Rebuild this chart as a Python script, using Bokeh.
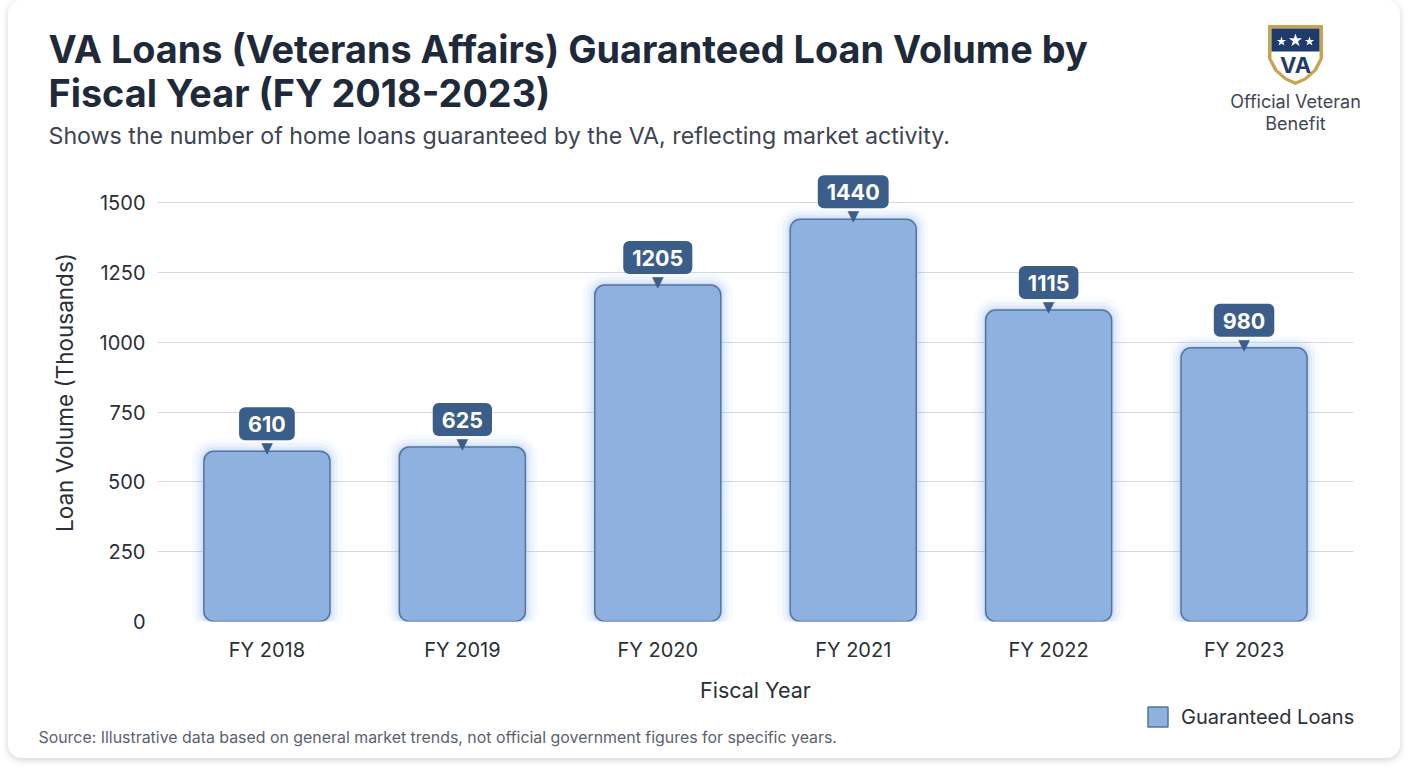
from bokeh.plotting import figure
from bokeh.models import (Range1d, FactorRange, FixedTicker, Legend, LegendItem, Label,
                          ColumnDataSource)
from bokeh.layouts import column
from bokeh.core.properties import value
from bokeh.embed import file_html
from bokeh.resources import INLINE

categories = ["FY 2018", "FY 2019", "FY 2020", "FY 2021", "FY 2022", "FY 2023"]
loan_volume = [610, 625, 1205, 1440, 1115, 980]
y_ticks = [0, 250, 500, 750, 1000, 1250, 1500]

TITLE_1 = "VA Loans (Veterans Affairs) Guaranteed Loan Volume by"
TITLE_2 = "Fiscal Year (FY 2018-2023)"
SUBTITLE = "Shows the number of home loans guaranteed by the VA, reflecting market activity."
SOURCE = "Source: Illustrative data based on general market trends, not official government figures for specific years."
SERIES = "Guaranteed Loans"

FONT = "Inter"
DARK = "#1e2a3a"
TXT = "#2b2f36"
NAVY = "#1f3b6b"
GOLD = "#c8a451"
BOX = "#3b5d89"
BAR_FILL = "#8fb1e0"
BAR_LINE = "#52759f"

src = ColumnDataSource(dict(cat=categories, val=loan_volume, lbl=[str(v) for v in loan_volume]))

W = 1392
HH = 160
MH = 545
# ---------- header ----------
header = figure(width=W, height=HH, x_range=Range1d(0, W), y_range=Range1d(HH, 0),
                toolbar_location=None, output_backend="svg", min_border=0, frame_align=False,
                x_axis_type=None, y_axis_type=None, outline_line_color=None,
                border_fill_color="white", background_fill_color="white")
header.grid.visible = False
header.text(x=[40, 40], y=[48, 92], text=[TITLE_1, TITLE_2], text_font=value(FONT),
            text_font_size="37.8px", text_font_style="bold", text_color=DARK, text_baseline="middle")
header.text(x=[40], y=[135], text=[SUBTITLE], text_font=value(FONT), text_font_size="23.2px",
            text_color="#3c4452", text_baseline="middle")
# shield logo
header.patch([1260, 1314, 1314, 1308, 1298, 1287, 1276, 1266, 1260],
             [25, 25, 58, 70, 79, 84, 79, 70, 58], fill_color=GOLD, line_color=GOLD)
header.patch([1263, 1311, 1311, 1305, 1296, 1287, 1278, 1269, 1263],
             [28, 28, 58, 69, 77, 81, 77, 69, 58], fill_color="white", line_color=None)
header.patch([1263, 1311, 1311, 1263], [28, 28, 51, 51], fill_color=NAVY, line_color=None)
header.scatter(x=[1273, 1287, 1301], y=[41, 40, 41], marker="star", size=[10, 14, 10],
               fill_color="white", line_color=None)
header.text(x=[1287], y=[64], text=["VA"], text_font=value(FONT), text_font_size="22px",
            text_font_style="bold", text_color=NAVY, text_align="center", text_baseline="middle")
header.text(x=[1287, 1287], y=[101, 123], text=["Official Veteran", "Benefit"], text_font=value(FONT),
            text_font_size="18px", text_color="#3f4652", text_align="center", text_baseline="middle")

# ---------- main chart ----------
p = figure(width=W, height=MH, frame_align=False,
           x_range=FactorRange(factors=categories, range_padding=0.06, range_padding_units="absolute"),
           y_range=Range1d(0, 1640), toolbar_location=None, output_backend="svg",
           min_border_left=149, min_border_right=47, min_border_top=3, min_border_bottom=84,
           outline_line_color=None, border_fill_color="white", background_fill_color="white")

for lw, a in [(24, 0.06), (16, 0.08), (9, 0.12), (4, 0.18)]:
    p.vbar(x="cat", top="val", width=0.645, source=src, fill_color=None,
           line_color="#7fa8ea", line_alpha=a, line_width=lw, border_radius=10)
bars = p.vbar(x="cat", top="val", bottom=0, width=0.645, source=src, fill_color=BAR_FILL,
              line_color=BAR_LINE, line_width=1.5, border_radius=10)

p.text(x="cat", y="val", text=value("\u25bc"), source=src, y_offset=-3, text_align="center",
       text_baseline="alphabetic", text_font=value("DejaVu Sans"), text_font_size="15px", text_color=BOX)
p.text(x="cat", y="val", text="lbl", source=src, y_offset=-11, text_align="center",
       text_baseline="bottom", text_font=value(FONT), text_font_size="21.5px", text_font_style="bold",
       text_color="white", background_fill_color=BOX, border_radius=6,
       padding=dict(left=9, right=9, top=9, bottom=8))

p.xgrid.grid_line_color = None
p.ygrid.grid_line_color = "#d5d9df"
p.ygrid.grid_line_width = 1
p.yaxis.ticker = FixedTicker(ticks=y_ticks)
for ax in (p.xaxis, p.yaxis):
    ax.axis_line_color = None
    ax.major_tick_line_color = None
    ax.minor_tick_line_color = None
    ax.major_tick_in = 0
    ax.major_tick_out = 0
    ax.minor_tick_out = 0
    ax.major_label_text_font = FONT
    ax.major_label_text_font_size = "20px"
    ax.major_label_text_color = TXT
    ax.axis_label_text_font = FONT
    ax.axis_label_text_font_style = "normal"
    ax.axis_label_text_color = TXT
p.xaxis.axis_label_text_font_size = "21.5px"
p.yaxis.axis_label_text_font_size = "22.5px"
p.yaxis.axis_label = "Loan Volume (Thousands)"
p.xaxis.axis_label = "Fiscal Year"
p.yaxis.major_label_standoff = 12
p.yaxis.axis_label_standoff = 19
p.xaxis.major_label_standoff = 16
p.xaxis.axis_label_standoff = 12

# ---------- footer (legend + source) ----------
FH = 758 - HH - MH
footer = figure(width=W, height=FH, frame_align=False,
                x_range=FactorRange(factors=categories), y_range=Range1d(0, 1640),
                toolbar_location=None, output_backend="svg", min_border=0,
                x_axis_type=None, y_axis_type=None, outline_line_color=None,
                border_fill_color="white", background_fill_color="white")
footer.grid.visible = False
# legend proxy: same bar style, no drawable value (NaN) so only the legend swatch shows
leg_src = ColumnDataSource(dict(cat=[categories[0]], val=[float("nan")]))
leg_r = footer.vbar(x="cat", top="val", bottom=0, width=0.645, source=leg_src, fill_color=BAR_FILL,
                    line_color=BAR_LINE, line_width=1.5, border_radius=5)
legend = Legend(items=[LegendItem(label=SERIES, renderers=[leg_r])], location=(1137, 29),
                orientation="horizontal", border_line_color=None, background_fill_alpha=0,
                label_text_font=FONT, label_text_font_size="20px", label_text_color=TXT,
                glyph_width=25, glyph_height=25, margin=0, padding=0, label_standoff=11, spacing=0)
footer.add_layout(legend)
footer.add_layout(Label(x=30, y=21, x_units="screen", y_units="screen", text=SOURCE,
                        text_font=FONT, text_font_size="15.9px", text_color="#5a6270",
                        text_baseline="middle"))

layout = column(header, p, footer, spacing=0,
                styles={"margin-left": "8px", "background-color": "white", "border-radius": "14px",
                        "box-shadow": "0 2px 7px rgba(0,0,0,0.18)", "overflow": "hidden"})

html = file_html(layout, INLINE)
html = html.replace("<body", '<body style="margin:0;background-color:#eef0f3"', 1)
open("out.html", "w").write(html)
